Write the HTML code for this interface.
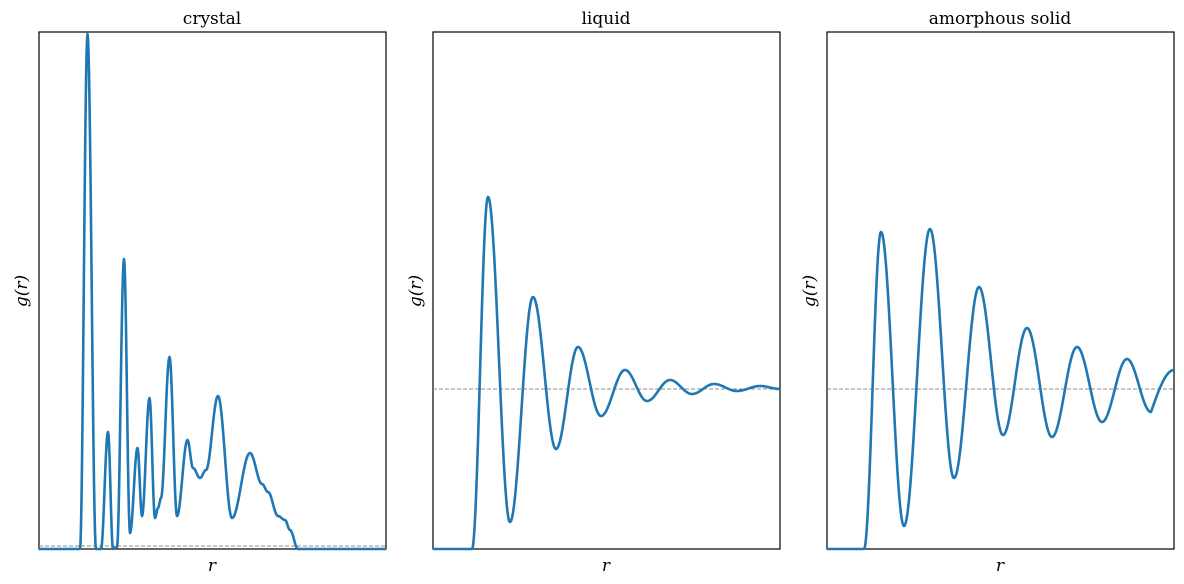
<!DOCTYPE html>
<html><head><meta charset="utf-8"><style>
html,body{margin:0;padding:0;background:#fff;}
svg{display:block;}
text{font-family:"DejaVu Serif","Liberation Serif",serif;fill:#000;}
</style></head><body>
<svg id="s" width="1184" height="584" viewBox="0 0 1184 584" xmlns="http://www.w3.org/2000/svg">
<g fill="none" stroke="#000" stroke-width="1.2">
<rect x="39" y="32" width="347" height="517"/>
<rect x="433" y="32" width="347" height="517"/>
<rect x="827" y="32" width="347" height="517"/>
</g>
<g stroke="#8c8c8c" stroke-width="1.1" stroke-dasharray="4,2">
<line x1="39" y1="546" x2="386" y2="546"/>
<line x1="433" y1="389" x2="780" y2="389"/>
<line x1="827" y1="389" x2="1174" y2="389"/>
</g>
<g id="curves" fill="none" stroke="#1f77b4" stroke-width="2.6" stroke-linejoin="round"></g>
<g font-size="17" text-anchor="middle">
<text x="212" y="24">crystal</text>
<text x="606" y="24">liquid</text>
<text x="1000" y="24">amorphous solid</text>
<text x="212" y="571" font-style="italic">r</text>
<text x="606" y="571" font-style="italic">r</text>
<text x="1000" y="571" font-style="italic">r</text>
<text transform="translate(27,291) rotate(-90)" font-style="italic">g(r)</text>
<text transform="translate(421,291) rotate(-90)" font-style="italic">g(r)</text>
<text transform="translate(815,291) rotate(-90)" font-style="italic">g(r)</text>
</g>
</svg>
<script>
var sets=[
[[39,549],[80,549],[87.5,34],[96,549],[101,549],[108,432],[113,549],[117,547],[124,259],[130,533],[137.5,448],[142,516],[149.5,398],[155,518],[158,508],[161,498],[169.5,357],[177,516],[187.5,440],[193,468],[200,478],[206,470],[218,396],[232,518],[250,453],[262,484],[268,492],[278,516],[285,520],[290,530],[298,549],[386,549]],
[[433,549],[472,549],[488,197],[510,522],[533,297],[556,449],[578,347],[601,416],[625,370],[647,401],[670,380],[692,394],[714,384],[737,391],[760,386],[780,389]],
[[827,549],[864,549],[881,232],[904,526],[930,229],[954,478],[979,287],[1003,435],[1027,328],[1052,437],[1077,347],[1102,422],[1127,359],[1151,412],[1174,370]]
];
var g=document.getElementById('curves');
sets.forEach(function(p,k){
 var d='M'+p[0][0]+','+p[0][1];
 for(var i=0;i<p.length-1;i++){
  var a=p[i],b=p[i+1],n=Math.max(4,Math.ceil((b[0]-a[0])*2));
  for(var j=1;j<=n;j++){var t=j/n;var x=a[0]+(b[0]-a[0])*t;
   var y=a[1]+(b[1]-a[1])*(1-Math.cos(Math.PI*t))/2;
   if(k==2&&i==p.length-2){y=a[1]+(b[1]-a[1])*Math.sin(Math.PI*t/2);}
   d+=' L'+x.toFixed(2)+','+y.toFixed(2);}
 }
 var e=document.createElementNS('http://www.w3.org/2000/svg','path');
 e.setAttribute('d',d);g.appendChild(e);
});
</script>
</body></html>
